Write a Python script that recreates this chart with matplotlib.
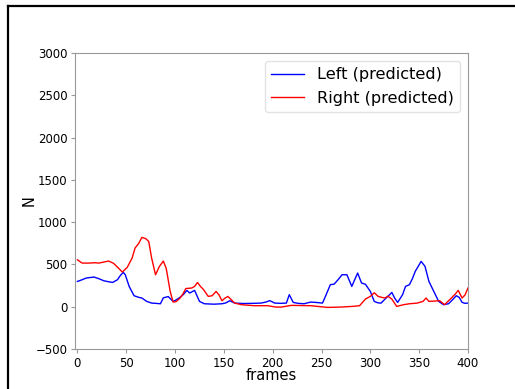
import numpy as np
import matplotlib
matplotlib.use("Agg")
import matplotlib.pyplot as plt
from matplotlib.lines import Line2D

# ========== DATA ==========
left_frames = [0, 5, 9, 17, 22, 27, 32, 36, 41, 44, 47, 49, 53, 58, 63, 66, 71, 76, 80, 85,
               88, 93, 98, 101, 105, 109, 112, 115, 120, 125, 130, 140, 148, 152, 156, 161,
               170, 180, 188, 193, 197, 202, 208, 214, 217, 221, 226, 232, 239, 245, 251,
               254, 259, 263, 267, 271, 276, 281, 284, 287, 291, 295, 300, 304, 308, 311,
               315, 318, 322, 325, 328, 333, 336, 340, 343, 346, 352, 356, 360, 365, 370,
               375, 380, 384, 388, 391, 394, 397, 400]
left_vals = [299, 320, 339, 351, 331, 307, 295, 287, 319, 370, 406, 378, 240, 130, 110, 103,
             63, 43, 40, 35, 105, 120, 63, 80, 110, 150, 193, 162, 193, 63, 35, 30, 35, 45,
             71, 43, 38, 40, 43, 55, 72, 43, 40, 43, 142, 51, 40, 35, 55, 50, 43, 122, 260,
             268, 320, 378, 378, 240, 320, 398, 280, 265, 181, 63, 45, 43, 90, 122, 169, 100,
             51, 142, 240, 260, 330, 418, 536, 477, 299, 181, 63, 24, 35, 80, 130, 110, 51,
             40, 43]

right_frames = [0, 3, 5, 12, 18, 22, 27, 32, 37, 42, 46, 51, 56, 59, 63, 66, 70, 73, 76, 80,
                84, 88, 91, 95, 98, 101, 105, 108, 111, 117, 120, 123, 126, 129, 134, 138,
                142, 145, 148, 151, 154, 157, 161, 168, 181, 195, 203, 209, 219, 239, 256,
                270, 283, 289, 295, 300, 304, 308, 312, 315, 318, 322, 327, 334, 340, 348,
                354, 357, 360, 371, 376, 383, 387, 390, 394, 397, 400]
right_vals = [555, 530, 516, 516, 520, 516, 528, 540, 513, 457, 410, 465, 575, 693, 753, 820,
              805, 772, 575, 378, 477, 540, 450, 181, 55, 60, 100, 150, 215, 221, 240, 287,
              240, 205, 122, 130, 181, 140, 71, 100, 122, 90, 43, 24, 12, 12, -4, -4, 16, 12,
              -8, -4, 5, 12, 91, 122, 165, 122, 110, 103, 125, 90, 4, 24, 35, 43, 63, 103, 63,
              71, 24, 103, 150, 193, 103, 140, 221]

# ========== PLOT ==========
fig = plt.figure(figsize=(5.15, 3.89), dpi=100)
ax = fig.add_axes([0.1456, 0.1028, 0.7631, 0.761])

ax.plot(left_frames, left_vals, color='#0000ff', lw=1.0, label='Left (predicted)')
ax.plot(right_frames, right_vals, color='#ff0000', lw=1.0, label='Right (predicted)')

ax.set_xlim(-2.5, 400)
ax.set_ylim(-500, 3000)
ax.set_xticks(np.arange(0, 401, 50))
ax.set_yticks(np.arange(-500, 3001, 500))
ax.tick_params(labelsize=8.5, color='#999999', length=3, pad=2.5)
for sp in ax.spines.values():
    sp.set_color('#999999')

ax.set_xlabel('frames', fontsize=10.5, labelpad=-1)
ax.set_ylabel('N', fontsize=10.5, labelpad=-1)

leg = ax.legend(loc='upper right', fontsize=11.6, handlelength=2.0)
leg.get_frame().set_edgecolor('#dddddd')

# black screenshot frame on the top and left edges
fig.add_artist(Line2D([7.5 / 515, 1.0], [1 - 5.5 / 389] * 2, transform=fig.transFigure,
                      color='black', lw=1.6))
fig.add_artist(Line2D([7.5 / 515] * 2, [0.0, 1 - 5.5 / 389], transform=fig.transFigure,
                      color='black', lw=1.6))

fig.savefig('out.png', dpi=100)
